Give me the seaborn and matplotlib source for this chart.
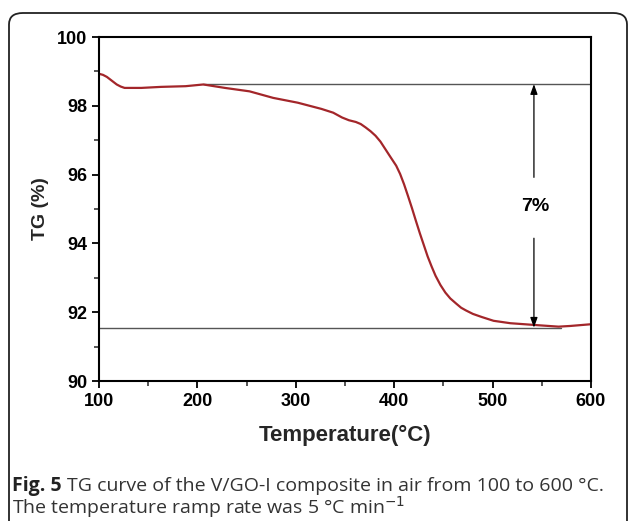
import matplotlib
matplotlib.use("Agg")
import matplotlib.pyplot as plt
from matplotlib.patches import FancyBboxPatch
from matplotlib.ticker import MultipleLocator
import seaborn as sns
import pandas as pd

temperature = [100, 104, 108, 113, 118, 122, 126, 135, 143, 163, 188, 206, 228, 253, 277,
               302, 326, 338, 347, 354, 361, 366, 371, 376, 381, 386, 391, 396, 402, 406,
               410, 414, 418, 422, 426, 430, 434, 438, 442, 447, 452, 457, 463, 468, 473,
               480, 489, 501, 518, 542, 567, 579, 600]
tg = [98.93, 98.90, 98.84, 98.73, 98.62, 98.56, 98.52, 98.52, 98.52, 98.55, 98.57, 98.62,
      98.52, 98.42, 98.23, 98.09, 97.91, 97.80, 97.66, 97.58, 97.53, 97.47, 97.37, 97.26,
      97.13, 96.96, 96.74, 96.52, 96.26, 96.02, 95.72, 95.38, 95.03, 94.66, 94.30, 93.96,
      93.62, 93.33, 93.06, 92.79, 92.57, 92.40, 92.25, 92.13, 92.05, 91.95, 91.86, 91.75,
      91.68, 91.63, 91.58, 91.60, 91.65]

upper_level = 98.63
lower_level = 91.55
upper_span = [206, 600]
lower_span = [100, 570]
arrow_x = 542
annotation = "7%"

x_ticks = [100, 200, 300, 400, 500, 600]
y_ticks = [90, 92, 94, 96, 98, 100]

sns.set_theme(style="ticks")
plt.rcParams["font.family"] = ["Liberation Sans", "DejaVu Sans"]

fig = plt.figure(figsize=(6.29, 5.21), dpi=100)
fig.patch.set_facecolor("white")

# rounded frame
frame = FancyBboxPatch((9 / 629, -0.05), 618 / 629, 1 - 13 / 521 + 0.05,
                       boxstyle="round,pad=0,rounding_size=0.022",
                       transform=fig.transFigure, fill=False,
                       edgecolor="#222222", linewidth=1.3, clip_on=False)
fig.patches.append(frame)

ax = fig.add_axes([99 / 629, 1 - 381 / 521, (591 - 99) / 629, (381 - 37) / 521])
df = pd.DataFrame({"T": temperature, "TG": tg})
sns.lineplot(data=df, x="T", y="TG", ax=ax, color="#A3262A", linewidth=1.6)

ax.plot(upper_span, [upper_level] * 2, color="#555555", linewidth=1.0, zorder=1)
ax.plot(lower_span, [lower_level] * 2, color="#555555", linewidth=1.0, zorder=1)

ax.annotate("", xy=(arrow_x, upper_level), xytext=(arrow_x, 95.92),
            arrowprops=dict(arrowstyle="-|>,head_length=0.5,head_width=0.18",
                            color="black", lw=0.9, shrinkA=0, shrinkB=0))
ax.annotate("", xy=(arrow_x, lower_level), xytext=(arrow_x, 94.15),
            arrowprops=dict(arrowstyle="-|>,head_length=0.5,head_width=0.18",
                            color="black", lw=0.9, shrinkA=0, shrinkB=0))
ax.text(arrow_x + 1, 95.06, annotation, ha="center", va="center",
        fontsize=14, fontweight="bold", color="black")

ax.set_xlim(100, 600)
ax.set_ylim(90, 100)
ax.set_xticks(x_ticks)
ax.set_yticks(y_ticks)
ax.xaxis.set_minor_locator(MultipleLocator(50))
ax.yaxis.set_minor_locator(MultipleLocator(1))
ax.tick_params(axis="both", which="major", direction="out", length=5, width=1.3,
               labelsize=13, colors="black", top=False, right=False)
ax.tick_params(axis="both", which="minor", direction="out", length=3.5, width=1.1,
               top=False, right=False)
for lab in ax.get_xticklabels() + ax.get_yticklabels():
    lab.set_fontweight("bold")
for s in ax.spines.values():
    s.set_linewidth(1.5)
    s.set_color("black")

ax.set_xlabel("Temperature(°C)", fontsize=16, fontweight="bold", labelpad=11)
ax.set_ylabel("TG (%)", fontsize=14, fontweight="bold", labelpad=6)

cap_font = ["Open Sans", "DejaVu Sans"]
cap_size = 14
t1 = fig.text(12 / 629, 1 - 486 / 521, "Fig. 5", fontsize=cap_size, fontweight="bold",
              family=cap_font, color="#222222", va="center", ha="left")
fig.canvas.draw()
bb = t1.get_window_extent()
fig.text((bb.x1 + 5) / 629, 1 - 486 / 521,
         "TG curve of the V/GO-I composite in air from 100 to 600 °C.",
         fontsize=cap_size, family=cap_font, color="#333333", va="center", ha="left")
fig.text(12 / 629, 1 - 507 / 521, "The temperature ramp rate was 5 °C min$^{-1}$",
         fontsize=cap_size, family=cap_font, color="#333333", va="center", ha="left")

fig.savefig("out.png", dpi=100, facecolor="white")
